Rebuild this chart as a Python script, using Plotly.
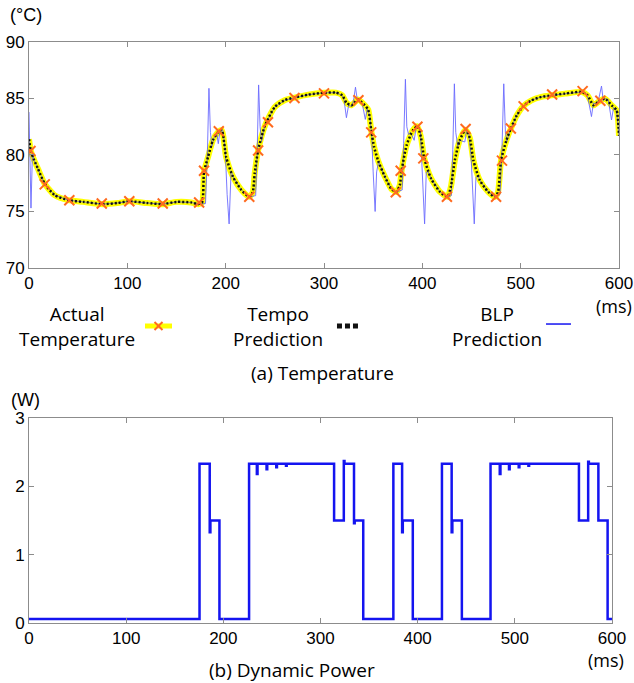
import plotly.graph_objects as go

# ---------------- data ----------------
# Actual temperature curve (ms, °C)
actual_t = [0, 2, 5, 9, 16, 26, 40, 55, 75, 90, 102, 120, 136, 150, 165, 172, 176, 178, 182, 187,
            192, 196, 200.5, 207.5, 216, 224, 227.5, 229.5, 233, 240, 250, 260, 270, 284, 300, 312,
            318.5, 323, 328, 334.5, 341.5, 345, 348.3, 351, 355, 362, 368.5, 373.5, 377, 379, 384,
            390.5, 395, 398.5, 402, 409, 418, 425.5, 429, 433, 438, 444, 448.3, 452, 458.5, 467,
            474, 477, 480, 485.5, 490, 496, 502.5, 511, 521, 531.5, 545, 562, 568, 574, 579,
            585.5, 592.5, 597.5, 600]
actual_temp = [81.4, 80.3, 79.6, 78.8, 77.45, 76.45, 76.0, 75.85, 75.65, 75.75, 75.9, 75.75, 75.65,
               75.85, 75.8, 75.65, 75.8, 78.5, 79.8, 81.3, 82.0, 82.2, 79.8, 78.06, 76.9, 76.3,
               76.7, 78.35, 80.4, 82.6, 84.25, 84.85, 85.08, 85.34, 85.5, 85.52, 85.28, 84.6, 84.4,
               84.9, 84.4, 84.0, 82.0, 80.7, 79.5, 78.06, 77.0, 76.73, 77.3, 78.65, 80.86, 82.2,
               82.54, 81.6, 79.68, 77.9, 76.73, 76.3, 77.17, 79.5, 81.3, 82.24, 81.5, 79.5, 77.76,
               76.73, 76.29, 76.73, 79.5, 81.3, 82.33, 83.5, 84.31, 84.84, 85.14, 85.28, 85.43,
               85.58, 85.28, 84.4, 84.7, 85.0, 84.4, 83.96, 81.7]

# Tempo prediction (visually coincides with the actual curve)
tempo_t = list(actual_t)
tempo_temp = list(actual_temp)

# Actual temperature sample markers
marker_t = [1.5, 16, 41, 74, 102, 136, 173, 178, 193, 224, 233, 243, 270, 300, 335, 348, 373, 378,
            395, 401, 425, 444, 475, 481, 490, 503, 532, 563, 581]
marker_temp = [80.35, 77.4, 76.0, 75.7, 75.9, 75.7, 75.8, 78.6, 82.1, 76.3, 80.4, 82.9, 85.05,
               85.45, 84.85, 82.0, 76.7, 78.6, 82.5, 79.7, 76.3, 82.3, 76.3, 79.5, 82.35, 84.3,
               85.35, 85.65, 84.8]

# BLP prediction
blp_t = [0, 1, 2, 3.5, 5, 9, 16, 26, 40, 55, 75, 90, 102, 120, 136, 150, 165, 172, 179.5, 181.5,
         183, 184.5, 186, 188, 191, 192.5, 194, 197, 199.5, 201.5, 203.5, 205.5, 208, 216, 224,
         230.5, 232, 233.5, 235, 236.5, 238.5, 242, 250, 260, 270, 284, 300, 312, 318.5, 320.5,
         322.8, 325, 328, 330, 332, 334, 336, 339, 342, 344, 346.5, 348.5, 350, 352, 353.5, 355.5,
         362, 368.5, 373.5, 379.5, 381, 382.8, 384.2, 386, 388, 391.7, 393.5, 395.5, 398, 400,
         402.3, 404, 406, 409, 418, 425.5, 429.5, 431, 432.6, 434, 436, 438, 443.2, 445, 447,
         449.5, 452.8, 454.5, 456.5, 458.5, 467, 474, 479, 481, 482.8, 484.5, 486, 488, 490, 496,
         502.5, 511, 521, 531.5, 545, 562, 566, 568.5, 572, 574, 577, 579, 582.2, 584, 586, 589,
         592.4, 594.5, 597.5, 600]
blp_temp = [83.8, 79.5, 75.3, 80.2, 79.6, 78.8, 77.45, 76.45, 76.0, 75.85, 75.65, 75.75, 75.9,
            75.75, 75.65, 75.85, 75.8, 75.65, 75.7, 80.5, 85.9, 82.0, 80.8, 81.5, 81.9, 81.0,
            82.0, 82.2, 80.5, 76.5, 73.9, 78.6, 78.0, 76.9, 76.3, 76.4, 80.0, 86.2, 82.5, 81.2,
            82.2, 83.0, 84.25, 84.85, 85.08, 85.34, 85.5, 85.52, 85.28, 84.8, 83.3, 84.4, 84.3,
            84.8, 86.0, 84.8, 84.7, 84.5, 83.15, 84.1, 83.5, 81.8, 78.5, 75.0, 78.5, 79.4, 78.06,
            77.0, 76.73, 76.9, 81.0, 86.7, 82.5, 81.8, 82.0, 81.3, 82.3, 82.5, 82.2, 78.0, 73.9,
            78.5, 78.5, 77.9, 76.73, 76.3, 76.4, 80.5, 86.3, 82.0, 80.8, 81.3, 81.15, 82.2, 82.0,
            80.0, 73.9, 78.0, 78.2, 77.76, 76.73, 76.29, 76.5, 80.5, 86.3, 82.0, 81.2, 81.8, 82.33,
            83.5, 84.31, 84.84, 85.14, 85.28, 85.43, 85.58, 85.5, 85.0, 83.4, 84.6, 84.5, 84.8,
            86.1, 84.8, 85.0, 84.9, 83.1, 84.2, 83.9, 81.7]

# Dynamic power (step trace, W)
power_t = [0, 175.5, 186, 186.7, 196, 226.5, 234.5, 235.2, 244.5, 245.2, 254.5, 255.2, 264.5,
           265.2, 314, 324, 324.7, 334.5, 335.2, 344, 375, 384, 384.7, 395, 425, 435, 435.7,
           445.5, 475, 484.5, 485.2, 494, 494.7, 504, 504.7, 514, 514.7, 566, 575.5, 576.2, 586,
           595.5, 600]
power_w = [0.06, 2.33, 1.33, 1.5, 0.06, 2.33, 2.18, 2.33, 2.25, 2.33, 2.28, 2.33, 2.30, 2.33,
           1.5, 2.37, 2.33, 1.46, 1.5, 0.06, 2.33, 1.33, 1.5, 0.06, 2.33, 1.33, 1.5, 0.06, 2.33,
           2.18, 2.33, 2.25, 2.33, 2.28, 2.33, 2.30, 2.33, 1.5, 2.36, 2.33, 1.5, 0.06, 0.06]

x_ticks = [0, 100, 200, 300, 400, 500, 600]
temp_ticks = [70, 75, 80, 85, 90]
power_ticks = [0, 1, 2, 3]

# ---------------- figure ----------------
YELLOW = "#ffff00"
ORANGE = "#ff6a1f"
BLUE_THIN = "#4646ff"
BLUE = "#1414f0"
GRAY = "#8c8c8c"

fig = go.Figure()

fig.add_trace(go.Scatter(x=actual_t, y=actual_temp, mode="lines", line=dict(color=YELLOW, width=6, shape="spline", smoothing=0.6),
                         xaxis="x", yaxis="y", showlegend=False, hoverinfo="skip"))
fig.add_trace(go.Scatter(x=blp_t, y=blp_temp, mode="lines", line=dict(color=BLUE_THIN, width=0.9),
                         xaxis="x", yaxis="y", showlegend=False, opacity=0.8))
fig.add_trace(go.Scatter(x=tempo_t, y=tempo_temp, mode="lines", line=dict(color="#111111", width=2.5, dash="2px,2px", shape="spline", smoothing=0.6),
                         xaxis="x", yaxis="y", showlegend=False))
fig.add_trace(go.Scatter(x=marker_t, y=marker_temp, mode="markers",
                         marker=dict(symbol="x-thin", size=10, line=dict(color=ORANGE, width=2)),
                         xaxis="x", yaxis="y", showlegend=False))

fig.add_trace(go.Scatter(x=power_t, y=power_w, mode="lines", line=dict(color=BLUE, width=2.5, shape="hv"),
                         xaxis="x2", yaxis="y2", showlegend=False))

axis_common = dict(showline=True, linecolor=GRAY, linewidth=1, mirror="ticks", ticks="inside",
                   ticklen=5, tickcolor=GRAY, showgrid=False, zeroline=False, automargin=False,
                   tickfont=dict(family="Liberation Sans, Arial, sans-serif", size=17, color="black"))

fig.update_layout(
    width=634, height=683,
    margin=dict(l=29, r=15, t=41, b=60, autoexpand=False),
    paper_bgcolor="white", plot_bgcolor="white",
    xaxis=dict(domain=[0, 1], range=[0, 600], tickvals=x_ticks, anchor="y", **axis_common),
    yaxis=dict(domain=[0.6100, 0.9983], range=[70, 90], tickvals=temp_ticks, anchor="x", **axis_common),
    xaxis2=dict(domain=[0, 0.9881], range=[0, 600], tickvals=x_ticks, anchor="y2", **axis_common),
    yaxis2=dict(domain=[0, 0.3522], range=[0, 3], tickvals=power_ticks, anchor="x2", **axis_common),
)

CAL = "Open Sans, sans-serif"
ARI = "Liberation Sans, Arial, sans-serif"

def ann(text, x, y, family=CAL, size=19):
    fig.add_annotation(text=text, x=x, y=y, xref="paper", yref="paper", showarrow=False,
                       xanchor="center", yanchor="middle", font=dict(family=family, size=size, color="black"))

ann("(°C)", -0.0051, 1.0447, ARI, 18)
ann("(W)", -0.0051, 0.3832, ARI, 18)
ann("(ms)", 0.9915, 0.5450, CAL, 18)
ann("(ms)", 0.978, -0.0640, CAL, 18)
ann("Actual<br>Temperature", 0.0814, 0.5095)
ann("Tempo<br>Prediction", 0.4212, 0.5095)
ann("BLP<br>Prediction", 0.7932, 0.5095)
ann("(a) Temperature", 0.4983, 0.4296)
ann("(b) Dynamic Power", 0.4458, -0.0808)

# legend glyphs
ly = 0.5103
fig.add_shape(type="line", xref="paper", yref="paper", x0=0.1966, x1=0.2424, y0=ly, y1=ly,
              line=dict(color=YELLOW, width=5))
dx, dy = 0.0068, 0.0069
cx = 0.2195
fig.add_shape(type="line", xref="paper", yref="paper", x0=cx - dx, x1=cx + dx, y0=ly - dy, y1=ly + dy,
              line=dict(color=ORANGE, width=2))
fig.add_shape(type="line", xref="paper", yref="paper", x0=cx - dx, x1=cx + dx, y0=ly + dy, y1=ly - dy,
              line=dict(color=ORANGE, width=2))
fig.add_shape(type="line", xref="paper", yref="paper", x0=0.522, x1=0.561, y0=ly, y1=ly,
              line=dict(color="#111111", width=5, dash="5px,3px"))
fig.add_shape(type="line", xref="paper", yref="paper", x0=0.8763, x1=0.9186, y0=0.5137, y1=0.5137,
              line=dict(color=BLUE, width=1.5))

fig.write_html("out.html", config={"displayModeBar": False},
               post_script="document.body.style.margin='0px';document.body.style.overflow='hidden';")
